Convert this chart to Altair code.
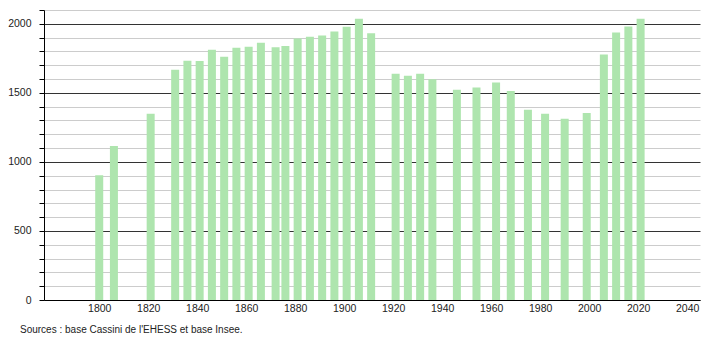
import altair as alt
import pandas as pd

years = [1800, 1806, 1821, 1831, 1836, 1841, 1846, 1851, 1856, 1861, 1866, 1872,
         1876, 1881, 1886, 1891, 1896, 1901, 1906, 1911, 1921, 1926, 1931, 1936,
         1946, 1954, 1962, 1968, 1975, 1982, 1990, 1999, 2006, 2011, 2016, 2021]
population = [903, 1116, 1348, 1667, 1732, 1730, 1812, 1761, 1826, 1833, 1862, 1831,
              1840, 1894, 1906, 1915, 1944, 1978, 2036, 1932, 1638, 1623, 1638, 1599,
              1522, 1539, 1575, 1514, 1377, 1348, 1312, 1355, 1778, 1937, 1981, 2036]
x_ticks = list(range(1800, 2041, 20))
y_ticks = list(range(0, 2101, 100))
source = "Sources : base Cassini de l'EHESS et base Insee."

df = pd.DataFrame({"year": years, "pop": population})

font = "Liberation Sans"

bars = alt.Chart(df).mark_bar(size=8, color="#aee5ae").encode(
    x=alt.X("year:Q",
            scale=alt.Scale(domain=[1779.5, 2043.2], nice=False, zero=False),
            axis=alt.Axis(values=x_ticks, title=None, grid=False, ticks=False,
                          labelPadding=3, labelFont=font, labelFontSize=10.5,
                          labelColor="#222", domainColor="#000", format="d",
                          labelFlush=False)),
    y=alt.Y("pop:Q",
            scale=alt.Scale(domain=[0, 2100], nice=False),
            axis=alt.Axis(values=y_ticks, title=None, grid=True,
                          gridColor={"condition": {"test": "datum.value % 500 === 0", "value": "#333333"},
                                     "value": "#cccccc"},
                          labelExpr="datum.value % 500 === 0 ? datum.label : ''",
                          tickSize=5, tickColor="#000", domainColor="#000",
                          labelFont=font, labelFontSize=10.5, labelColor="#222",
                          labelPadding=8, format="d")),
)

chart = bars.properties(
    width=656, height=290,
    autosize=alt.AutoSizeParams(type="none"),
    padding={"left": 44, "top": 10, "right": 10, "bottom": 40},
    title=alt.TitleParams(source, orient="bottom", anchor="start", frame="group",
                          dx=-24, offset=16, baseline="middle",
                          font=font, fontSize=10, fontWeight="normal", color="#222"),
).configure_view(stroke=None)

chart.save("out.html", embed_options={"renderer": "svg", "actions": False})
